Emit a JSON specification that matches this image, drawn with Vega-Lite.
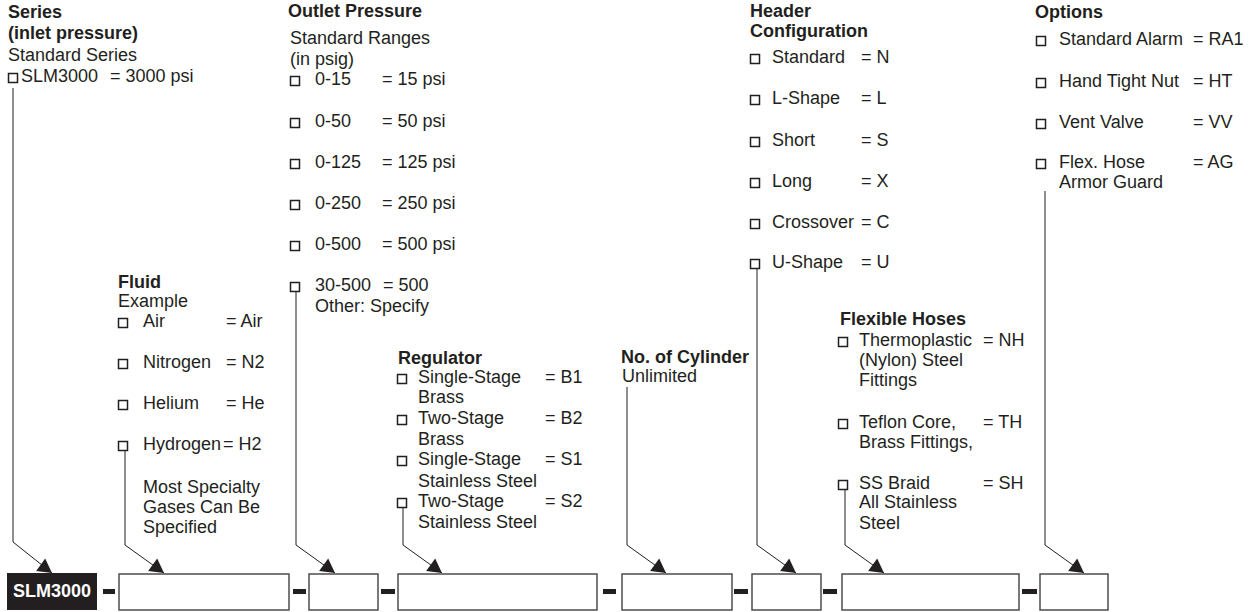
{
  "$schema": "https://vega.github.io/schema/vega-lite/v6.json",
  "width": 1259,
  "height": 612,
  "autosize": {"type": "fit", "contains": "padding"},
  "padding": 0,
  "background": "white",
  "config": {"view": {"stroke": null}},
  "datasets": {
    "texts": [
      {"x": 8, "y": 13, "text": "Series", "kind": "heading"},
      {"x": 8, "y": 34, "text": "(inlet pressure)", "kind": "heading"},
      {"x": 8, "y": 56, "text": "Standard Series", "kind": "label"},
      {"x": 21, "y": 77, "text": "SLM3000", "kind": "label"},
      {"x": 110, "y": 77, "text": "= 3000 psi", "kind": "label"},

      {"x": 288, "y": 12, "text": "Outlet Pressure", "kind": "heading"},
      {"x": 290, "y": 39, "text": "Standard Ranges", "kind": "label"},
      {"x": 290, "y": 60, "text": "(in psig)", "kind": "label"},
      {"x": 315, "y": 80, "text": "0-15", "kind": "label"},
      {"x": 382, "y": 80, "text": "= 15 psi", "kind": "label"},
      {"x": 315, "y": 122, "text": "0-50", "kind": "label"},
      {"x": 382, "y": 122, "text": "= 50 psi", "kind": "label"},
      {"x": 315, "y": 163, "text": "0-125", "kind": "label"},
      {"x": 382, "y": 163, "text": "= 125 psi", "kind": "label"},
      {"x": 315, "y": 204, "text": "0-250", "kind": "label"},
      {"x": 382, "y": 204, "text": "= 250 psi", "kind": "label"},
      {"x": 315, "y": 245, "text": "0-500", "kind": "label"},
      {"x": 382, "y": 245, "text": "= 500 psi", "kind": "label"},
      {"x": 315, "y": 286, "text": "30-500", "kind": "label"},
      {"x": 383, "y": 286, "text": "= 500", "kind": "label"},
      {"x": 315, "y": 307, "text": "Other: Specify", "kind": "label"},

      {"x": 750, "y": 12, "text": "Header", "kind": "heading"},
      {"x": 750, "y": 32, "text": "Configuration", "kind": "heading"},
      {"x": 772, "y": 58, "text": "Standard", "kind": "label"},
      {"x": 861, "y": 58, "text": "= N", "kind": "label"},
      {"x": 772, "y": 99, "text": "L-Shape", "kind": "label"},
      {"x": 861, "y": 99, "text": "= L", "kind": "label"},
      {"x": 772, "y": 141, "text": "Short", "kind": "label"},
      {"x": 861, "y": 141, "text": "= S", "kind": "label"},
      {"x": 772, "y": 182, "text": "Long", "kind": "label"},
      {"x": 861, "y": 182, "text": "= X", "kind": "label"},
      {"x": 772, "y": 223, "text": "Crossover", "kind": "label"},
      {"x": 861, "y": 223, "text": "= C", "kind": "label"},
      {"x": 772, "y": 263, "text": "U-Shape", "kind": "label"},
      {"x": 861, "y": 263, "text": "= U", "kind": "label"},

      {"x": 1035, "y": 13, "text": "Options", "kind": "heading"},
      {"x": 1059, "y": 40, "text": "Standard Alarm", "kind": "label"},
      {"x": 1193, "y": 40, "text": "= RA1", "kind": "label"},
      {"x": 1059, "y": 82, "text": "Hand Tight Nut", "kind": "label"},
      {"x": 1193, "y": 82, "text": "= HT", "kind": "label"},
      {"x": 1059, "y": 123, "text": "Vent Valve", "kind": "label"},
      {"x": 1193, "y": 123, "text": "= VV", "kind": "label"},
      {"x": 1059, "y": 163, "text": "Flex. Hose", "kind": "label"},
      {"x": 1193, "y": 163, "text": "= AG", "kind": "label"},
      {"x": 1059, "y": 183, "text": "Armor Guard", "kind": "label"},

      {"x": 118, "y": 283, "text": "Fluid", "kind": "heading"},
      {"x": 118, "y": 302, "text": "Example", "kind": "label"},
      {"x": 143, "y": 322, "text": "Air", "kind": "label"},
      {"x": 226, "y": 322, "text": "= Air", "kind": "label"},
      {"x": 143, "y": 363, "text": "Nitrogen", "kind": "label"},
      {"x": 226, "y": 363, "text": "= N2", "kind": "label"},
      {"x": 143, "y": 404, "text": "Helium", "kind": "label"},
      {"x": 226, "y": 404, "text": "= He", "kind": "label"},
      {"x": 143, "y": 445, "text": "Hydrogen", "kind": "label"},
      {"x": 223, "y": 445, "text": "= H2", "kind": "label"},
      {"x": 143, "y": 488, "text": "Most Specialty", "kind": "label"},
      {"x": 143, "y": 508, "text": "Gases Can Be", "kind": "label"},
      {"x": 143, "y": 528, "text": "Specified", "kind": "label"},

      {"x": 398, "y": 359, "text": "Regulator", "kind": "heading"},
      {"x": 418, "y": 378, "text": "Single-Stage", "kind": "label"},
      {"x": 545, "y": 378, "text": "= B1", "kind": "label"},
      {"x": 418, "y": 398, "text": "Brass", "kind": "label"},
      {"x": 418, "y": 419, "text": "Two-Stage", "kind": "label"},
      {"x": 545, "y": 419, "text": "= B2", "kind": "label"},
      {"x": 418, "y": 440, "text": "Brass", "kind": "label"},
      {"x": 418, "y": 460, "text": "Single-Stage", "kind": "label"},
      {"x": 545, "y": 460, "text": "= S1", "kind": "label"},
      {"x": 418, "y": 482, "text": "Stainless Steel", "kind": "label"},
      {"x": 418, "y": 502, "text": "Two-Stage", "kind": "label"},
      {"x": 545, "y": 502, "text": "= S2", "kind": "label"},
      {"x": 418, "y": 523, "text": "Stainless Steel", "kind": "label"},

      {"x": 621, "y": 358, "text": "No. of Cylinder", "kind": "heading"},
      {"x": 622, "y": 377, "text": "Unlimited", "kind": "label"},

      {"x": 840, "y": 320, "text": "Flexible Hoses", "kind": "heading"},
      {"x": 859, "y": 341, "text": "Thermoplastic", "kind": "label"},
      {"x": 983, "y": 341, "text": "= NH", "kind": "label"},
      {"x": 859, "y": 361, "text": "(Nylon) Steel", "kind": "label"},
      {"x": 859, "y": 381, "text": "Fittings", "kind": "label"},
      {"x": 859, "y": 423, "text": "Teflon Core,", "kind": "label"},
      {"x": 983, "y": 423, "text": "= TH", "kind": "label"},
      {"x": 859, "y": 443, "text": "Brass Fittings,", "kind": "label"},
      {"x": 859, "y": 484, "text": "SS Braid", "kind": "label"},
      {"x": 983, "y": 484, "text": "= SH", "kind": "label"},
      {"x": 859, "y": 503, "text": "All Stainless", "kind": "label"},
      {"x": 859, "y": 524, "text": "Steel", "kind": "label"},

      {"x": 52, "y": 592, "text": "SLM3000", "kind": "part"}
    ],
    "checkboxes": [
      {"x": 13, "y": 78},
      {"x": 295, "y": 81}, {"x": 295, "y": 123}, {"x": 295, "y": 164},
      {"x": 295, "y": 205}, {"x": 295, "y": 246}, {"x": 295, "y": 287},
      {"x": 755, "y": 59}, {"x": 755, "y": 100}, {"x": 755, "y": 142},
      {"x": 755, "y": 183}, {"x": 755, "y": 224}, {"x": 755, "y": 264},
      {"x": 1041, "y": 41}, {"x": 1041, "y": 83}, {"x": 1041, "y": 124}, {"x": 1041, "y": 164},
      {"x": 123, "y": 323}, {"x": 123, "y": 364}, {"x": 123, "y": 405}, {"x": 123, "y": 446},
      {"x": 402, "y": 379}, {"x": 402, "y": 420}, {"x": 402, "y": 461}, {"x": 402, "y": 503},
      {"x": 843, "y": 342}, {"x": 843, "y": 424}, {"x": 843, "y": 485}
    ],
    "boxes": [
      {"segment": "series", "x": 7, "x2": 97, "y": 573, "y2": 610},
      {"segment": "fluid", "x": 119, "x2": 289, "y": 574, "y2": 610},
      {"segment": "outlet", "x": 309, "x2": 378, "y": 574, "y2": 610},
      {"segment": "regulator", "x": 398, "x2": 597, "y": 574, "y2": 610},
      {"segment": "cylinder", "x": 622, "x2": 732, "y": 574, "y2": 610},
      {"segment": "header", "x": 752, "x2": 821, "y": 574, "y2": 610},
      {"segment": "hoses", "x": 842, "x2": 1019, "y": 574, "y2": 610},
      {"segment": "options", "x": 1040, "x2": 1108, "y": 574, "y2": 610}
    ],
    "dashes": [
      {"x": 103, "x2": 115, "y": 589, "y2": 594},
      {"x": 293, "x2": 306, "y": 589, "y2": 594},
      {"x": 381, "x2": 395, "y": 589, "y2": 594},
      {"x": 603, "x2": 616, "y": 589, "y2": 594},
      {"x": 734, "x2": 748, "y": 589, "y2": 594},
      {"x": 823, "x2": 837, "y": 589, "y2": 594},
      {"x": 1022, "x2": 1037, "y": 589, "y2": 594}
    ],
    "leaders": [
      {"leader": "series", "order": 1, "x": 13, "y": 88},
      {"leader": "series", "order": 2, "x": 13, "y": 542},
      {"leader": "series", "order": 3, "x": 52, "y": 573},
      {"leader": "fluid", "order": 1, "x": 125, "y": 450},
      {"leader": "fluid", "order": 2, "x": 125, "y": 545},
      {"leader": "fluid", "order": 3, "x": 164, "y": 573},
      {"leader": "outlet", "order": 1, "x": 296, "y": 291},
      {"leader": "outlet", "order": 2, "x": 296, "y": 545},
      {"leader": "outlet", "order": 3, "x": 335, "y": 573},
      {"leader": "regulator", "order": 1, "x": 403, "y": 507},
      {"leader": "regulator", "order": 2, "x": 403, "y": 545},
      {"leader": "regulator", "order": 3, "x": 442, "y": 573},
      {"leader": "cylinder", "order": 1, "x": 627, "y": 387},
      {"leader": "cylinder", "order": 2, "x": 627, "y": 545},
      {"leader": "cylinder", "order": 3, "x": 666, "y": 573},
      {"leader": "header", "order": 1, "x": 757, "y": 268},
      {"leader": "header", "order": 2, "x": 757, "y": 545},
      {"leader": "header", "order": 3, "x": 796, "y": 573},
      {"leader": "hoses", "order": 1, "x": 845, "y": 489},
      {"leader": "hoses", "order": 2, "x": 845, "y": 545},
      {"leader": "hoses", "order": 3, "x": 884, "y": 573},
      {"leader": "options", "order": 1, "x": 1045, "y": 191},
      {"leader": "options", "order": 2, "x": 1045, "y": 545},
      {"leader": "options", "order": 3, "x": 1084, "y": 573}
    ],
    "arrows": [
      {"leader": "series", "x": 52, "y": 573},
      {"leader": "fluid", "x": 164, "y": 573},
      {"leader": "outlet", "x": 335, "y": 573},
      {"leader": "regulator", "x": 442, "y": 573},
      {"leader": "cylinder", "x": 666, "y": 573},
      {"leader": "header", "x": 796, "y": 573},
      {"leader": "hoses", "x": 884, "y": 573},
      {"leader": "options", "x": 1084, "y": 573}
    ]
  },
  "encoding": {
    "x": {"field": "x", "type": "quantitative", "scale": {"domain": [0, 1259], "nice": false, "zero": false}, "axis": null},
    "y": {"field": "y", "type": "quantitative", "scale": {"domain": [0, 612], "nice": false, "zero": false, "reverse": true}, "axis": null}
  },
  "layer": [
    {
      "data": {"name": "boxes"},
      "transform": [{"filter": "datum.segment !== 'series'"}],
      "mark": {"type": "rect", "fill": "white", "stroke": "#4d4d4d", "strokeWidth": 1.5},
      "encoding": {"x2": {"field": "x2"}, "y2": {"field": "y2"}}
    },
    {
      "data": {"name": "boxes"},
      "transform": [{"filter": "datum.segment === 'series'"}],
      "mark": {"type": "rect", "fill": "#231f20", "stroke": null},
      "encoding": {"x2": {"field": "x2"}, "y2": {"field": "y2"}}
    },
    {
      "data": {"name": "dashes"},
      "mark": {"type": "rect", "fill": "#231f20", "stroke": null},
      "encoding": {"x2": {"field": "x2"}, "y2": {"field": "y2"}}
    },
    {
      "data": {"name": "leaders"},
      "mark": {"type": "line", "color": "#231f20", "strokeWidth": 1},
      "encoding": {"detail": {"field": "leader"}, "order": {"field": "order", "type": "quantitative"}}
    },
    {
      "data": {"name": "arrows"},
      "mark": {"type": "point", "shape": "M0,0L-2,-1.1L-2,1.1Z", "filled": true, "size": 196, "angle": 36, "color": "#231f20", "opacity": 1, "strokeWidth": 0}
    },
    {
      "data": {"name": "checkboxes"},
      "mark": {"type": "point", "shape": "square", "size": 81, "filled": true, "fill": "white", "stroke": "#231f20", "strokeWidth": 1.5, "opacity": 1}
    },
    {
      "data": {"name": "texts"},
      "transform": [{"filter": "datum.kind === 'heading'"}],
      "mark": {"type": "text", "align": "left", "baseline": "middle", "font": "Liberation Sans", "fontSize": 18, "fontWeight": "bold", "color": "#231f20"},
      "encoding": {"text": {"field": "text"}}
    },
    {
      "data": {"name": "texts"},
      "transform": [{"filter": "datum.kind === 'label'"}],
      "mark": {"type": "text", "align": "left", "baseline": "middle", "font": "Liberation Sans", "fontSize": 18, "color": "#231f20"},
      "encoding": {"text": {"field": "text"}}
    },
    {
      "data": {"name": "texts"},
      "transform": [{"filter": "datum.kind === 'part'"}],
      "mark": {"type": "text", "align": "center", "baseline": "middle", "font": "Liberation Sans", "fontSize": 18, "fontWeight": "bold", "color": "white"},
      "encoding": {"text": {"field": "text"}}
    }
  ]
}
